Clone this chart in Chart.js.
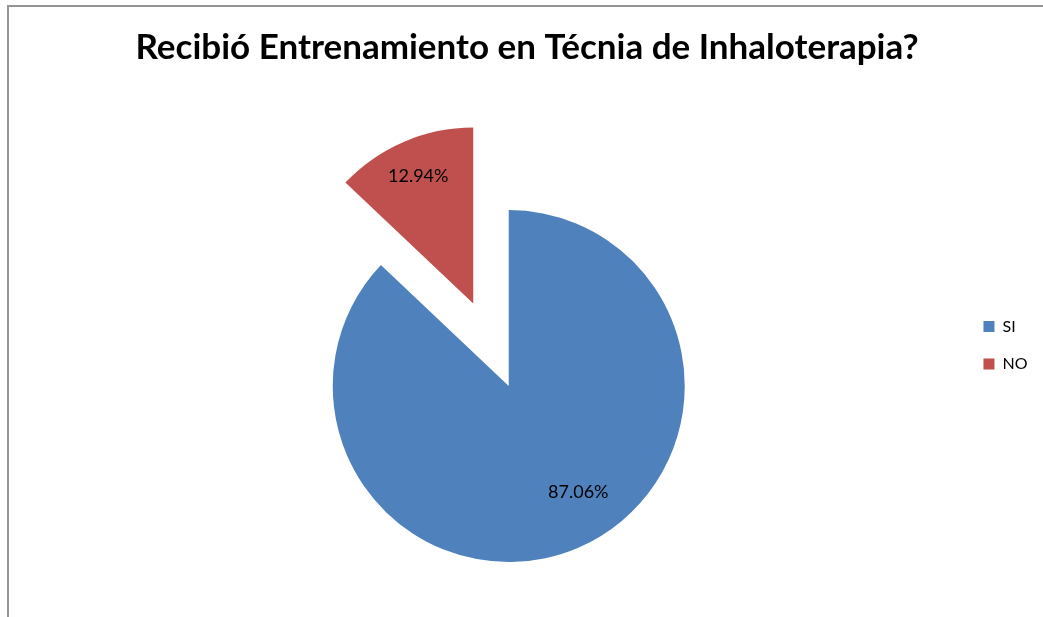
<!DOCTYPE html>
<html>
<head>
<meta charset="utf-8">
<title>Entrenamiento en inhaloterapia</title>
<script src="https://cdn.jsdelivr.net/npm/chart.js@4.4.1/dist/chart.umd.min.js"></script>
<style>
  html, body { margin: 0; padding: 0; background: #fff; }
  #wrap { width: 1043px; height: 617px; position: relative; }
</style>
</head>
<body>
<div id="wrap"><canvas id="pie"></canvas></div>
<script>
// ===== DATOS =====
const categories = ['SI', 'NO'];
const percentages = [87.06, 12.94];
const sliceColors = ['#4F81BD', '#C0504D'];
const titleText = 'Recibió Entrenamiento en Técnia de Inhaloterapia?';

// ===== ESTILO =====
const fontFamily = 'Lato, "Noto Sans", sans-serif';
const explode = [0, 0.51];          // separación de cada porción, en fracción del radio
const labelRadius = [0.72, 0.79];   // distancia de la etiqueta al centro, en fracción del radio
const labelTurn = [-10, 0];         // giro de la etiqueta respecto al ángulo medio (grados)

// marco gris del gráfico (solo lados izquierdo y superior quedan dentro del lienzo)
const chartBorder = {
    id: 'chartBorder',
    beforeDraw(chart) {
        const ctx = chart.ctx;
        ctx.save();
        ctx.strokeStyle = '#959595';
        ctx.lineWidth = 2;
        ctx.beginPath();
        ctx.moveTo(8, chart.height);
        ctx.lineTo(8, 6);
        ctx.lineTo(chart.width, 6);
        ctx.stroke();
        ctx.restore();
    }
};

// título centrado sobre todo el marco (no solo sobre el área del pastel)
const chartTitle = {
    id: 'chartTitle',
    afterDraw(chart, args, opts) {
        const ctx = chart.ctx;
        ctx.save();
        ctx.font = 'bold 35px ' + fontFamily;
        ctx.fillStyle = '#000';
        ctx.textAlign = 'center';
        ctx.textBaseline = 'alphabetic';
        ctx.fillText(opts.text, (chart.width + 11) / 2, 59);
        ctx.restore();
    }
};

// dibuja cada porción desplazada hacia afuera según "explode"
const explodedSlices = {
    id: 'explodedSlices',
    beforeDatasetDraw(chart, args) {
        const ctx = chart.ctx;
        args.meta.data.forEach((arc, i) => {
            const mid = (arc.startAngle + arc.endAngle) / 2;
            const shift = explode[i] * arc.outerRadius;
            ctx.save();
            ctx.translate(Math.cos(mid) * shift, Math.sin(mid) * shift);
            arc.draw(ctx);
            ctx.restore();
        });
        return false;
    }
};

// porcentajes dentro de cada porción
const sliceLabels = {
    id: 'sliceLabels',
    afterDatasetsDraw(chart) {
        const ctx = chart.ctx;
        const arcs = chart.getDatasetMeta(0).data;
        ctx.save();
        ctx.font = '18px ' + fontFamily;
        ctx.fillStyle = '#000';
        ctx.textAlign = 'center';
        ctx.textBaseline = 'middle';
        arcs.forEach((arc, i) => {
            const mid = (arc.startAngle + arc.endAngle) / 2;
            const shift = explode[i] * arc.outerRadius;
            const cx = arc.x + Math.cos(mid) * shift;
            const cy = arc.y + Math.sin(mid) * shift;
            const a = mid + labelTurn[i] * Math.PI / 180;
            const d = labelRadius[i] * arc.outerRadius;
            ctx.fillText(percentages[i].toFixed(2) + '%', cx + Math.cos(a) * d, cy + Math.sin(a) * d);
        });
        ctx.restore();
    }
};

new Chart(document.getElementById('pie'), {
    type: 'pie',
    data: {
        labels: categories,
        datasets: [{
            data: percentages,
            backgroundColor: sliceColors,
            borderWidth: 0,
            clip: false
        }]
    },
    options: {
        responsive: true,
        maintainAspectRatio: false,
        animation: false,
        events: [],
        radius: 176,
        layout: { padding: { left: 55.5, right: 5.5, top: 155, bottom: 0 } },
        plugins: {
            chartTitle: { text: titleText },
            legend: {
                position: 'right',
                align: 'start',
                // espacio vacío arriba para bajar las entradas de la leyenda
                title: { display: true, text: '', padding: { top: 127.6, bottom: 0 } },
                labels: {
                    color: '#000',
                    font: { family: fontFamily, size: 16 },
                    boxWidth: 11,
                    boxHeight: 11,
                    padding: 21.5
                }
            },
            tooltip: { enabled: false }
        }
    },
    plugins: [chartBorder, chartTitle, explodedSlices, sliceLabels]
});
</script>
</body>
</html>
